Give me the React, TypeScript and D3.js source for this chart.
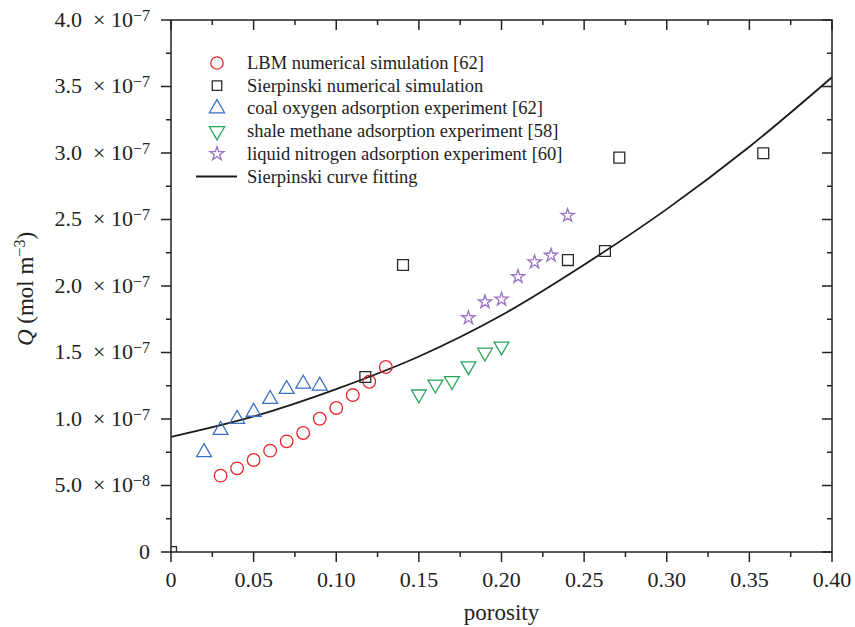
import React, { useEffect, useRef } from 'react';
import * as d3 from 'd3';

// values (Q in units of 1e-7 mol m^-3)
const lbmX = [0.03, 0.04, 0.05, 0.06, 0.07, 0.08, 0.09, 0.10, 0.11, 0.12, 0.13];
const lbmQ = [0.574, 0.629, 0.692, 0.762, 0.832, 0.895, 1.002, 1.083, 1.18, 1.28, 1.391];

const sierX = [0.0, 0.1176, 0.1404, 0.2402, 0.2626, 0.2713, 0.3584];
const sierQ = [0.0, 1.316, 2.158, 2.195, 2.263, 2.965, 2.998];

const coalX = [0.02, 0.03, 0.04, 0.05, 0.06, 0.07, 0.08, 0.09];
const coalQ = [0.75, 0.917, 1.0, 1.053, 1.15, 1.225, 1.265, 1.25];

const shaleX = [0.15, 0.16, 0.17, 0.18, 0.19, 0.20];
const shaleQ = [1.186, 1.26, 1.286, 1.398, 1.5, 1.546];

const nitroX = [0.18, 0.19, 0.20, 0.21, 0.22, 0.23, 0.24];
const nitroQ = [1.76, 1.88, 1.90, 2.07, 2.18, 2.23, 2.53];

const fitX = [0, 0.05, 0.10, 0.15, 0.20, 0.25, 0.30, 0.35, 0.40];
const fitQ = [0.865, 1.019, 1.225, 1.47, 1.78, 2.16, 2.578, 3.047, 3.57];

const xTicks = [0, 0.05, 0.10, 0.15, 0.20, 0.25, 0.30, 0.35, 0.40];
const xTickLabels = ['0', '0.05', '0.10', '0.15', '0.20', '0.25', '0.30', '0.35', '0.40'];
const yTicks = [0, 0.5, 1.0, 1.5, 2.0, 2.5, 3.0, 3.5, 4.0];
const yTickMant = ['0', '5.0', '1.0', '1.5', '2.0', '2.5', '3.0', '3.5', '4.0'];
const yTickExp = ['', '−8', '−7', '−7', '−7', '−7', '−7', '−7', '−7'];

const legendLabels = [
  'LBM numerical simulation [62]',
  'Sierpinski numerical simulation',
  'coal oxygen adsorption experiment [62]',
  'shale methane adsorption experiment [58]',
  'liquid nitrogen adsorption experiment [60]',
  'Sierpinski curve fitting',
];

const FONT = "'Liberation Serif', 'Times New Roman', Times, serif";

export default function App() {
  const ref = useRef<SVGSVGElement>(null);

  useEffect(() => {
    const W = 855, H = 627;
    const left = 171, right = 832, top = 20, bottom = 552;
    const svg = d3.select(ref.current);
    svg.selectAll('*').remove();

    const x = d3.scaleLinear().domain([0, 0.4]).range([left, right]);
    const y = d3.scaleLinear().domain([0, 4]).range([bottom, top]);

    svg.append('rect').attr('width', W).attr('height', H).attr('fill', '#fff');

    svg.append('clipPath').attr('id', 'plotclip')
      .append('rect').attr('x', left).attr('y', top)
      .attr('width', right - left).attr('height', bottom - top);

    // fitted curve
    const line = d3.line<number>()
      .x((d, i) => x(fitX[i]))
      .y(d => y(d))
      .curve(d3.curveMonotoneX);
    svg.append('path')
      .attr('d', line(fitQ))
      .attr('fill', 'none')
      .attr('stroke', '#1a1a1a')
      .attr('stroke-width', 1.8)
      .attr('clip-path', 'url(#plotclip)');

    const marks = svg.append('g').attr('clip-path', 'url(#plotclip)');

    const drawSym = (g: any, xs: number[], ys: number[], type: any, size: number, color: string, rot = 0) => {
      g.selectAll(null)
        .data(ys)
        .enter()
        .append('path')
        .attr('d', d3.symbol().type(type).size(size)())
        .attr('transform', (d: number, i: number) => `translate(${x(xs[i])},${y(d)}) rotate(${rot})`)
        .attr('fill', 'none')
        .attr('stroke', color)
        .attr('stroke-width', 1.3);
    };

    const RED = '#e8262b', BLACK = '#2a2a2a', BLUE = '#3a6fc4', GREEN = '#27a55a', PURPLE = '#9b72c4';
    drawSym(marks, lbmX, lbmQ, d3.symbolCircle, 125, RED);
    drawSym(marks, sierX, sierQ, d3.symbolSquare, 118, BLACK);
    drawSym(marks, coalX, coalQ, d3.symbolTriangle, 95, BLUE);
    drawSym(marks, shaleX, shaleQ, d3.symbolTriangle, 95, GREEN, 180);
    drawSym(marks, nitroX, nitroQ, d3.symbolStar, 55, PURPLE);

    // frame
    svg.append('rect')
      .attr('x', left).attr('y', top)
      .attr('width', right - left).attr('height', bottom - top)
      .attr('fill', 'none').attr('stroke', '#222').attr('stroke-width', 1.5);

    const major = 10, minor = 5;
    const tk = svg.append('g').attr('stroke', '#222').attr('stroke-width', 1.5);
    const xMinor = d3.range(0.025, 0.4, 0.05);
    const yMinor = d3.range(0.25, 4, 0.5);

    xTicks.forEach(v => {
      tk.append('line').attr('x1', x(v)).attr('x2', x(v)).attr('y1', bottom).attr('y2', bottom + major);
      tk.append('line').attr('x1', x(v)).attr('x2', x(v)).attr('y1', top).attr('y2', top + major);
    });
    xMinor.forEach(v => {
      tk.append('line').attr('x1', x(v)).attr('x2', x(v)).attr('y1', bottom).attr('y2', bottom + minor);
      tk.append('line').attr('x1', x(v)).attr('x2', x(v)).attr('y1', top).attr('y2', top + minor);
    });
    yTicks.forEach(v => {
      tk.append('line').attr('y1', y(v)).attr('y2', y(v)).attr('x1', left).attr('x2', left - major);
      tk.append('line').attr('y1', y(v)).attr('y2', y(v)).attr('x1', right).attr('x2', right - major);
    });
    yMinor.forEach(v => {
      tk.append('line').attr('y1', y(v)).attr('y2', y(v)).attr('x1', left).attr('x2', left - minor);
      tk.append('line').attr('y1', y(v)).attr('y2', y(v)).attr('x1', right).attr('x2', right - minor);
    });

    // x tick labels
    svg.append('g').selectAll('text')
      .data(xTicks)
      .enter()
      .append('text')
      .attr('x', d => x(d))
      .attr('y', bottom + 35)
      .attr('text-anchor', 'middle')
      .attr('font-family', FONT)
      .attr('font-size', 22)
      .attr('fill', '#222')
      .text((d, i) => xTickLabels[i]);

    // y tick labels
    const yl = svg.append('g');
    yTicks.forEach((v, i) => {
      const t = yl.append('text')
        .attr('x', left - 21)
        .attr('y', y(v) + 6.5)
        .attr('text-anchor', 'end')
        .attr('font-family', FONT)
        .attr('font-size', 22)
        .attr('fill', '#222');
      if (yTickExp[i] === '') {
        t.text(yTickMant[i]);
      } else {
        t.append('tspan').text(`${yTickMant[i]}\u00A0\u00A0×\u00A010`);
        t.append('tspan').attr('dy', -6).attr('font-size', 16).text(yTickExp[i]);
      }
    });

    // axis titles
    svg.append('text')
      .attr('x', (left + right) / 2)
      .attr('y', 620)
      .attr('text-anchor', 'middle')
      .attr('font-family', FONT)
      .attr('font-size', 23)
      .attr('fill', '#222')
      .text('porosity');

    const yt = svg.append('text')
      .attr('transform', `translate(33,289) rotate(-90)`)
      .attr('text-anchor', 'middle')
      .attr('font-family', FONT)
      .attr('font-size', 23)
      .attr('fill', '#222');
    yt.append('tspan').attr('font-style', 'italic').text('Q');
    yt.append('tspan').text(' (mol m');
    yt.append('tspan').attr('dy', -8).attr('font-size', 16).text('−3');
    yt.append('tspan').attr('dy', 8).text(')');

    // legend
    const lg = svg.append('g');
    const types = [d3.symbolCircle, d3.symbolSquare, d3.symbolTriangle, d3.symbolTriangle, d3.symbolStar];
    const sizes = [120, 90, 100, 100, 60];
    const cols = [RED, BLACK, BLUE, GREEN, PURPLE];
    legendLabels.forEach((lab, i) => {
      const ly = 63 + i * 22.7;
      if (i < 5) {
        lg.append('path')
          .attr('d', d3.symbol().type(types[i]).size(sizes[i])())
          .attr('transform', `translate(217,${ly}) rotate(${i === 3 ? 180 : 0})`)
          .attr('fill', 'none')
          .attr('stroke', cols[i])
          .attr('stroke-width', 1.3);
      } else {
        lg.append('line').attr('x1', 196).attr('x2', 237).attr('y1', ly).attr('y2', ly)
          .attr('stroke', '#1a1a1a').attr('stroke-width', 2);
      }
      lg.append('text')
        .attr('x', 247)
        .attr('y', ly + 6)
        .attr('font-family', FONT)
        .attr('font-size', 18.5)
        .attr('fill', '#222')
        .text(lab);
    });
  }, []);

  return (
    <svg ref={ref} width={855} height={627} style={{ position: 'absolute', left: 0, top: 0 }} />
  );
}
